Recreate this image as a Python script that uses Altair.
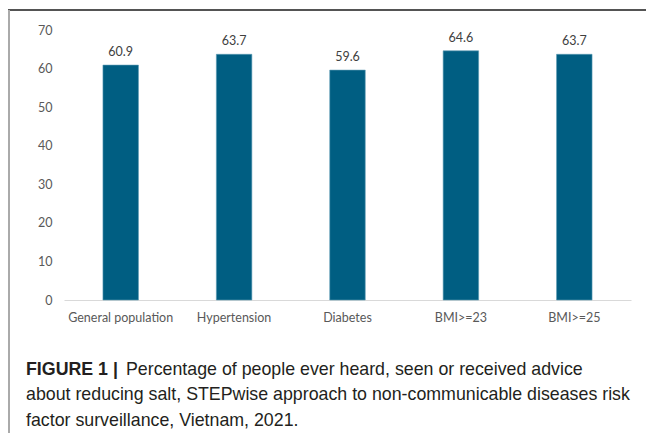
import altair as alt
import pandas as pd

categories = ["General population", "Hypertension", "Diabetes", "BMI>=23", "BMI>=25"]
values = [60.9, 63.7, 59.6, 64.6, 63.7]
y_ticks = [0, 10, 20, 30, 40, 50, 60, 70]

caption_bold = "FIGURE 1 |"
caption_lines = [
    "Percentage of people ever heard, seen or received advice",
    "about reducing salt, STEPwise approach to non-communicable diseases risk",
    "factor surveillance, Vietnam, 2021.",
]

df = pd.DataFrame({"category": categories, "value": values})

W, H = 567, 270
PAD_L, PAD_T = 64, 30

x_enc = alt.X(
    "category:N",
    sort=categories,
    scale=alt.Scale(paddingInner=0.687, paddingOuter=0.3435),
    axis=alt.Axis(
        title=None, labelAngle=0, ticks=False, domainColor="#d9d9d9",
        domainWidth=1, labelColor="#595959", labelFont="Lato",
        labelFontSize=12.5, labelPadding=11,
    ),
)
y_enc = alt.Y(
    "value:Q",
    scale=alt.Scale(domain=[0, 70], nice=False),
    axis=alt.Axis(
        title=None, values=y_ticks, grid=False, domain=False, ticks=False,
        labelColor="#595959", labelFont="Lato", labelFontSize=12.5,
        labelPadding=12, labelOverlap=False, labelFlush=False,
    ),
)

bars = alt.Chart(df).mark_bar(color="#005e82", stroke="#5a9bb3", strokeWidth=0.6).encode(
    x=x_enc, y=y_enc
)
labels = alt.Chart(df).mark_text(
    baseline="alphabetic", dy=-9, font="Lato", fontSize=12.5, color="#404040"
).encode(x=x_enc, y=y_enc, text=alt.Text("value:Q", format=".1f"))

# frame lines
top_line = alt.Chart(df).mark_rule(color="#555555", strokeWidth=1.5).encode(
    x=alt.value(8 - PAD_L), x2=alt.value(646 - PAD_L), y=alt.value(10 - PAD_T)
)
left_line = alt.Chart(df).mark_rule(color="#aaaaaa", strokeWidth=2).encode(
    x=alt.value(9 - PAD_L), y=alt.value(10 - PAD_T), y2=alt.value(433 - PAD_T)
)

FS = 17.8
CAP_COLOR = "#231f20"
cap_bold = alt.Chart(pd.DataFrame({"t": [caption_bold]})).mark_text(
    align="left", baseline="alphabetic", font="Liberation Sans", fontSize=FS,
    fontWeight="bold", color=CAP_COLOR
).encode(x=alt.value(26 - PAD_L), y=alt.value(375 - PAD_T), text="t:N")
cap1 = alt.Chart(pd.DataFrame({"t": [caption_lines[0]]})).mark_text(
    align="left", baseline="alphabetic", font="Liberation Sans", fontSize=FS,
    color=CAP_COLOR
).encode(x=alt.value(126 - PAD_L), y=alt.value(375 - PAD_T), text="t:N")
cap2 = alt.Chart(pd.DataFrame({"t": [caption_lines[1]]})).mark_text(
    align="left", baseline="alphabetic", font="Liberation Sans", fontSize=FS,
    color=CAP_COLOR
).encode(x=alt.value(26 - PAD_L), y=alt.value(400 - PAD_T), text="t:N")
cap3 = alt.Chart(pd.DataFrame({"t": [caption_lines[2]]})).mark_text(
    align="left", baseline="alphabetic", font="Liberation Sans", fontSize=FS,
    color=CAP_COLOR
).encode(x=alt.value(26 - PAD_L), y=alt.value(426 - PAD_T), text="t:N")

chart = alt.layer(bars, labels, top_line, left_line, cap_bold, cap1, cap2, cap3).properties(
    width=W, height=H,
    background="white",
    autosize=alt.AutoSizeParams(type="none"),
    padding={"left": PAD_L, "top": PAD_T, "right": 646 - PAD_L - W, "bottom": 433 - PAD_T - H},
).configure_view(strokeWidth=0)

chart.save("out.html", embed_options={"renderer": "svg", "actions": False})
